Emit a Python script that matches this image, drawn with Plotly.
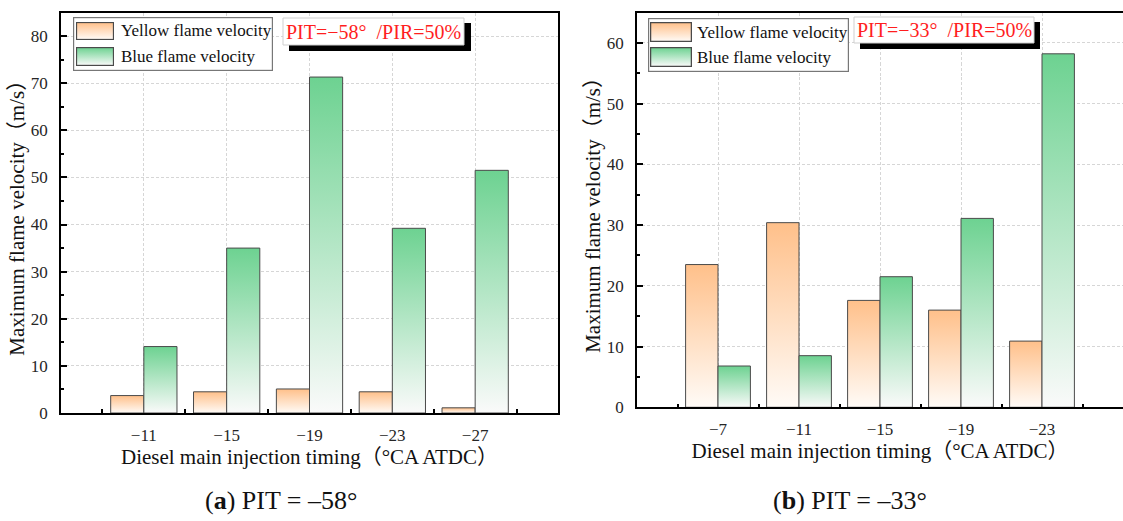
import base64
import plotly.graph_objects as go

# ---------------- data ----------------
cats_a = ["−11", "−15", "−19", "−23", "−27"]
yellow_a = [3.7, 4.5, 5.1, 4.5, 1.1]
blue_a = [14.1, 35.0, 71.3, 39.2, 51.5]

cats_b = ["−7", "−11", "−15", "−19", "−23"]
yellow_b = [23.5, 30.4, 17.6, 16.0, 10.9]
blue_b = [6.8, 8.5, 21.5, 31.1, 58.2]

series_names = ["Yellow flame velocity", "Blue flame velocity"]
captions = ["(<b>a</b>) PIT = –58°", "(<b>b</b>) PIT = –33°"]
pit_labels = ["PIT=−58°  /PIR=50%", "PIT=−33°  /PIR=50%"]
y_max = [85, 65]

# ---------------- style ----------------
W, H = 1123, 521
SERIF = "Liberation Serif, Noto Sans CJK SC, serif"
YEL_TOP, YEL_BOT = "#ffc08a", "#fffbf7"
GRN_TOP, GRN_BOT = "#6dd291", "#fafafa"
EDGE = "#4a4a4a"
BAR_W = 0.4


def px(x):
    return x / W


def py(y):
    return 1 - y / H


fig = go.Figure()


def add_bars(values, offset, top, bot, xa, ya):
    for i, v in enumerate(values):
        x0 = i + offset
        x1 = x0 + BAR_W
        fig.add_trace(go.Scatter(
            x=[x0, x0, x1, x1, x0], y=[0, v, v, 0, 0],
            mode="lines", fill="toself",
            fillgradient=dict(type="vertical", colorscale=[[0, bot], [1, top]]),
            line=dict(color=EDGE, width=1),
            xaxis=xa, yaxis=ya, showlegend=False, hoverinfo="skip"))


add_bars(yellow_a, -BAR_W, YEL_TOP, YEL_BOT, "x", "y")
add_bars(blue_a, 0, GRN_TOP, GRN_BOT, "x", "y")
add_bars(yellow_b, -BAR_W, YEL_TOP, YEL_BOT, "x2", "y2")
add_bars(blue_b, 0, GRN_TOP, GRN_BOT, "x2", "y2")

tickfont = dict(family=SERIF, size=17, color="#262626")
titlefont = dict(family=SERIF, size=21, color="#111")
gridstyle = dict(showgrid=True, gridcolor="#d6d6d6", gridwidth=1, griddash="3px,2px")


def xaxis(dom, cats):
    return dict(domain=dom, range=[-1, 5], tickmode="array", automargin=False,
                tickvals=list(range(len(cats))), ticktext=cats, ticks="",
                showline=True, linecolor="black", linewidth=1.5, mirror=True,
                zeroline=False, tickfont=tickfont, ticklabelstandoff=6,
                minor=dict(tickmode="linear", tick0=-0.5, dtick=1, ticks="inside",
                           ticklen=4, tickcolor="black", tickwidth=1.5, showgrid=False),
                title=dict(text="Diesel main injection timing（°CA ATDC）",
                           font=titlefont, standoff=0),
                fixedrange=True, **gridstyle)


def yaxis(dom, ymax, anchor):
    return dict(domain=dom, range=[0, ymax], dtick=10, tick0=0, anchor=anchor,
                automargin=False,
                ticks="inside", ticklen=6, tickwidth=1.5, tickcolor="black",
                showline=True, linecolor="black", linewidth=1.5, mirror=True,
                zeroline=False, tickfont=tickfont, ticklabelstandoff=8,
                minor=dict(dtick=5, ticks="inside", ticklen=3, tickwidth=1.5,
                           tickcolor="black", showgrid=False),
                title=dict(text="Maximum flame velocity（m/s）", font=titlefont, standoff=0),
                fixedrange=True, **gridstyle)


fig.update_layout(
    width=W, height=H, autosize=False,
    margin=dict(l=0, r=0, t=0, b=0, autoexpand=False),
    paper_bgcolor="white", plot_bgcolor="white",
    showlegend=False,
    xaxis=xaxis([px(61), px(558)], cats_a) | dict(anchor="y"),
    yaxis=yaxis([py(413), py(12.5)], y_max[0], "x"),
    xaxis2=xaxis([px(637), 1.0], cats_b) | dict(anchor="y2"),
    yaxis2=yaxis([py(407.3), py(12.5)], y_max[1], "x2"),
)


def svg_uri(svg):
    return "data:image/svg+xml;base64," + base64.b64encode(svg.encode()).decode()


frame_svg = svg_uri('<svg xmlns="http://www.w3.org/2000/svg" width="200" height="54" '
                    'viewBox="0 0 200 54" preserveAspectRatio="none">'
                    '<rect x="0.6" y="0.6" width="198.8" height="52.8" fill="white" '
                    'stroke="#777" stroke-width="1.2"/></svg>')


def swatch_svg(top, bot):
    return svg_uri('<svg xmlns="http://www.w3.org/2000/svg" width="40" height="19" '
                   'viewBox="0 0 40 19" preserveAspectRatio="none"><defs>'
                   '<linearGradient id="g" x1="0" y1="0" x2="0" y2="1">'
                   f'<stop offset="0" stop-color="{top}"/><stop offset="1" stop-color="{bot}"/>'
                   '</linearGradient></defs>'
                   '<rect x="0.6" y="0.6" width="38.8" height="17.8" fill="url(#g)" '
                   f'stroke="{EDGE}" stroke-width="1.2"/></svg>')


images = []
shapes = []
annotations = []


def legend_and_labels(fx0, fx1, fy0, fy1, sw_x0, sw_x1, rows, text_x,
                      box, shadow, caption_x, pit, caption):
    images.append(dict(source=frame_svg, xref="paper", yref="paper",
                       x=px(fx0), y=py(fy0), sizex=px(fx1 - fx0), sizey=(fy1 - fy0) / H,
                       xanchor="left", yanchor="top", sizing="stretch", layer="above"))
    for (r0, r1), (top, bot), name in zip(rows, [(YEL_TOP, YEL_BOT), (GRN_TOP, GRN_BOT)],
                                          series_names):
        images.append(dict(source=swatch_svg(top, bot), xref="paper", yref="paper",
                           x=px(sw_x0), y=py(r0), sizex=px(sw_x1 - sw_x0), sizey=(r1 - r0) / H,
                           xanchor="left", yanchor="top", sizing="stretch", layer="above"))
        annotations.append(dict(text=name, xref="paper", yref="paper", x=px(text_x),
                                y=py((r0 + r1) / 2), xanchor="left", yanchor="middle",
                                showarrow=False, font=dict(family=SERIF, size=17, color="#111")))
    sx0, sy0, sx1, sy1 = shadow
    shapes.append(dict(type="rect", xref="paper", yref="paper", x0=px(sx0), x1=px(sx1),
                       y0=py(sy0), y1=py(sy1), fillcolor="black", line=dict(width=0)))
    bx0, by0, bx1, by1 = box
    shapes.append(dict(type="rect", xref="paper", yref="paper", x0=px(bx0), x1=px(bx1),
                       y0=py(by0), y1=py(by1), fillcolor="white",
                       line=dict(color="#cfcfcf", width=1)))
    annotations.append(dict(text=pit, xref="paper", yref="paper", x=px((bx0 + bx1) / 2),
                            y=py((by0 + by1) / 2), xanchor="center", yanchor="middle",
                            showarrow=False, font=dict(family=SERIF, size=20, color="#ff1e1e")))
    annotations.append(dict(text=caption, xref="paper", yref="paper", x=px(caption_x),
                            y=py(500), xanchor="center", yanchor="middle", showarrow=False,
                            font=dict(family=SERIF, size=26, color="#111")))


legend_and_labels(73, 273, 17, 71, 76, 114, [(22, 40), (47, 66)], 119,
                  (283, 18, 464, 45), (289, 23, 471, 51), 281, pit_labels[0], captions[0])
legend_and_labels(648, 849, 18, 72, 650, 692, [(22, 42), (47, 67)], 695,
                  (854, 17, 1034, 43), (860, 22, 1040, 49), 850, pit_labels[1], captions[1])

fig.update_layout(images=images, shapes=shapes, annotations=annotations)

fig.write_html("out.html", config=dict(displayModeBar=False),
               post_script="document.body.style.margin='0';document.body.style.overflow='hidden';")
